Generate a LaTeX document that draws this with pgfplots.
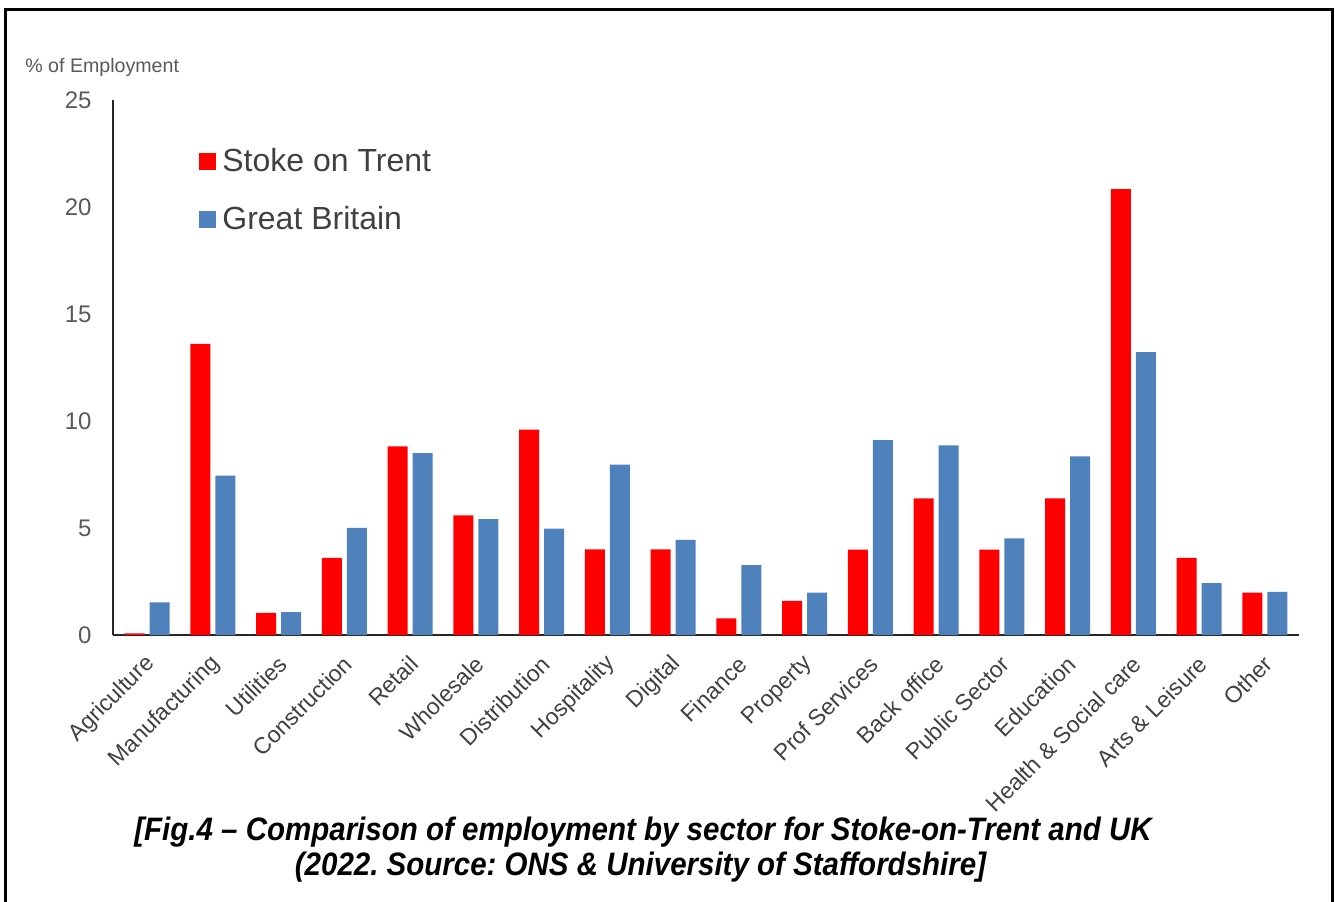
\documentclass[border=0pt]{standalone}
\usepackage{pgfplots}
\pgfplotsset{compat=1.18}
\usepackage{pgfplotstable}
\usepackage{fontspec}
\setmainfont{Liberation Sans}
\usepackage{graphicx}

\definecolor{stoke}{HTML}{FF0000}
\definecolor{gb}{HTML}{4F81BD}
\definecolor{labelgray}{HTML}{595959}
\definecolor{textgray}{HTML}{404040}

% Share of employment by sector (%)
\pgfplotstableread{
idx stoke gb
0   0.08  1.53
1   13.60 7.45
2   1.03  1.07
3   3.61  5.01
4   8.82  8.50
5   5.59  5.41
6   9.60  4.97
7   4.00  7.96
8   4.00  4.44
9   0.78  3.26
10  1.60  1.98
11  3.99  9.11
12  6.39  8.86
13  3.99  4.52
14  6.39  8.35
15  20.84 13.22
16  3.60  2.43
17  1.98  2.01
}\sectors

\begin{document}
\frenchspacing
\begin{tikzpicture}
\useasboundingbox (-56.5pt,-133pt) rectangle (611pt,317.5pt);
\begin{axis}[
  at={(0pt,0pt)}, anchor=south west,
  scale only axis,
  width=593pt, height=267.5pt,
  ybar=2.5pt, bar width=10pt,
  xmin=-0.52, xmax=17.52,
  ymin=0, ymax=25,
  enlarge y limits=false,
  axis x line*=bottom, axis y line*=left,
  axis line style={draw=black!85, line width=0.7pt, -},
  major tick length=0pt,
  ytick={0,5,...,25},
  xtick={0,...,17},
  xticklabels={Agriculture,Manufacturing,Utilities,Construction,Retail,Wholesale,Distribution,Hospitality,Digital,Finance,Property,Prof Services,Back office,Public Sector,Education,Health \& Social care,Arts \& Leisure,Other},
  /pgf/number format/assume math mode=true,
  yticklabel style={font=\fontsize{12}{14}\selectfont, text=labelgray, anchor=east, inner sep=0pt, xshift=-10.5pt},
  xticklabel style={font=\fontsize{11.5}{13}\selectfont, text=textgray, inner sep=0pt, xshift=2pt, yshift=-12.5pt, rotate=45, anchor=east},
  ylabel={\% of Employment},
  every axis y label/.style={at={(rel axis cs:-0.0742,1.0505)}, anchor=base west, inner sep=0pt, font=\fontsize{9.8}{11}\selectfont, text=labelgray},
  legend image code/.code={\fill[#1] (0pt,-4.25pt) rectangle (8.5pt,4.25pt);},
  legend style={at={(rel axis cs:0.0725,0.914)}, anchor=north west, draw=none, fill=none, inner sep=0pt,
    font=\fontsize{16}{19}\selectfont, text=textgray, row sep=14pt, column sep=2pt,
    nodes={inner sep=1pt}},
  legend cell align=left,
]
\addplot[fill=stoke, draw=none] table[x=idx, y=stoke] {\sectors};
\addplot[fill=gb, draw=none] table[x=idx, y=gb] {\sectors};
\legend{Stoke on Trent, Great Britain}
\end{axis}
% frame
\draw[line width=1.5pt, black] (-53.75pt,-140pt) -- (-53.75pt,312.5pt) -- (609.75pt,312.5pt) -- (609.75pt,-140pt);
% caption
\node[anchor=base, inner sep=0pt, font=\fontsize{14.75}{17}\selectfont\bfseries\itshape] at (265pt,-102.5pt)
  {\scalebox{1}[1.1]{[Fig.4 – Comparison of employment by sector for Stoke-on-Trent and UK}};
\node[anchor=base, inner sep=0pt, font=\fontsize{14.75}{17}\selectfont\bfseries\itshape] at (263.75pt,-120pt)
  {\scalebox{1}[1.1]{(2022. Source: ONS \& University of Staffordshire]}};
\end{tikzpicture}
\end{document}
